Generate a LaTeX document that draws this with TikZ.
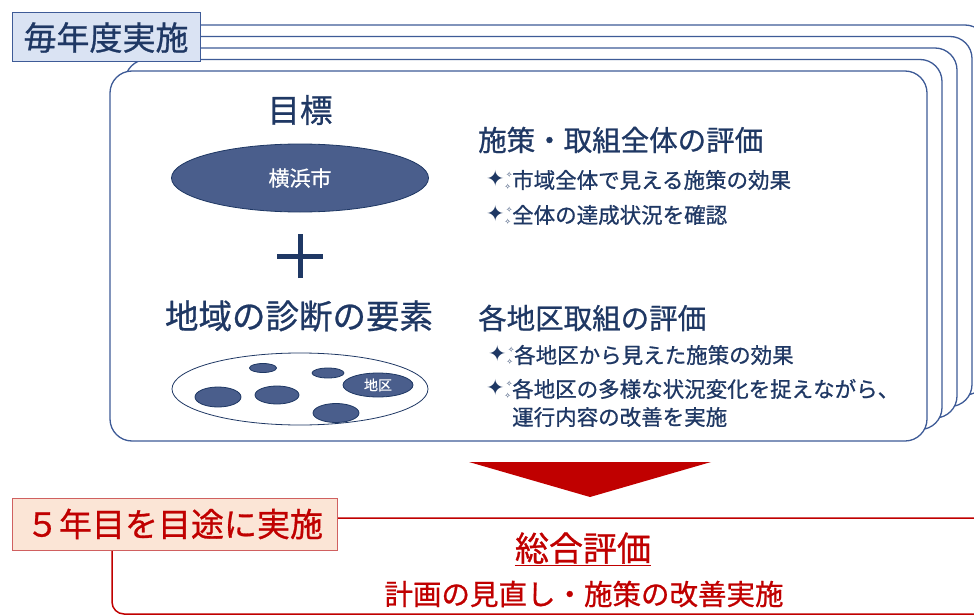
\documentclass[tikz,border=0pt]{standalone}
\usepackage{fontspec}
\setmainfont{Noto Sans CJK JP}
\newfontfamily\heavy[FakeBold=0.8]{Noto Sans CJK JP}
\newfontfamily\symfont{DejaVu Sans}
\usetikzlibrary{shapes.geometric}
\definecolor{navy}{HTML}{1F3864}
\definecolor{frameblue}{HTML}{3E5B97}
\definecolor{labelblue}{HTML}{DAE3F3}
\definecolor{discfill}{HTML}{4A5E8C}
\definecolor{darkred}{HTML}{C00000}
\definecolor{labelred}{HTML}{FBE5D6}
\definecolor{edgered}{HTML}{D06060}
\newcommand{\spark}{\symfont\raisebox{-1pt}{\fontsize{22}{22}\selectfont ✦}\fontsize{7.5}{7.5}\selectfont\rlap{\hspace*{1.5pt}\raisebox{8pt}{✧}}\raisebox{-3.5pt}{✧}}
\tikzset{
	stackbox/.style={draw=frameblue,fill=white,line width=1.3pt,rounded corners=22pt},
	disc/.style={ellipse,draw=navy,fill=discfill,line width=0.8pt,inner sep=0pt,text=white},
	heading/.style={text=navy,anchor=west,inner sep=0pt,font=\heavy\fontsize{28.5}{31}\selectfont},
	bullet/.style={text=navy,anchor=west,inner sep=0pt,font=\heavy\fontsize{21.5}{24}\selectfont},
	sparkmark/.style={text=navy,anchor=east,inner sep=0pt},
}
\begin{document}
\begin{tikzpicture}[x=1pt,y=-1pt]
		\useasboundingbox (0,0) rectangle (974,615);
		\clip (0,0) rectangle (974,615);
		\foreach \k in {4,3,2,1}
			\draw [stackbox,shift={(15*\k,-11.5*\k)}] (110,71) rectangle (927,441);
		\draw [stackbox] (110,71) rectangle (927,441);
		\node [draw=frameblue,fill=labelblue,line width=1pt,minimum width=188pt,minimum height=49pt,inner sep=0pt,text=navy,font=\heavy\fontsize{33}{36}\selectfont] (yearly) at (106,37.5) {毎年度実施};
		\node [text=navy,inner sep=0pt,font=\heavy\fontsize{32.5}{35}\selectfont] (goal) at (300,110) {目標};
		\node [disc,minimum width=257pt,minimum height=68pt,font=\heavy\fontsize{21}{23}\selectfont] (city) at (300,178) {横浜市};
		\coordinate (plus) at (300,256);
		\draw [navy,line width=5pt] ([xshift=-23pt]plus) -- ([xshift=23pt]plus);
		\draw [navy,line width=5pt] ([yshift=-22pt]plus) -- ([yshift=22pt]plus);
		\node [text=navy,inner sep=0pt,font=\heavy\fontsize{33.5}{36}\selectfont] (elements) at (299,316) {地域の診断の要素};
		\node [ellipse,draw=navy,fill=white,line width=0.8pt,minimum width=256pt,minimum height=72pt,inner sep=0pt] (area) at (300,389) {};
		\node [disc,minimum width=27pt,minimum height=9pt] (d1) at (263,368) {};
		\node [disc,minimum width=32pt,minimum height=10pt] (d2) at (328,373) {};
		\node [disc,minimum width=70pt,minimum height=24pt,font=\heavy\fontsize{14}{16}\selectfont] (district) at (378,385) {地区};
		\node [disc,minimum width=46pt,minimum height=20pt] (d3) at (218,397) {};
		\node [disc,minimum width=44pt,minimum height=18pt] (d4) at (277,395) {};
		\node [disc,minimum width=46pt,minimum height=19pt] (d5) at (336,413) {};
		\node [heading] (overall) at (478,140) {施策・取組全体の評価};
		\node [bullet] (overall1) at (512,180) {市域全体で見える施策の効果};
		\node [bullet] (overall2) at (512,215) {全体の達成状況を確認};
		\node [heading] (local) at (478,318) {各地区取組の評価};
		\node [bullet] (local1) at (514,355) {各地区から見えた施策の効果};
		\node [bullet] (local2) at (512,389) {各地区の多様な状況変化を捉えながら、};
		\node [bullet] (local3) at (512,417) {運行内容の改善を実施};
		\foreach \item in {overall1,overall2,local1,local2}
			\node [sparkmark] (\item-mark) at ([xshift=-1pt]\item.west) {\spark};
		\fill [darkred] (469,462) -- (711,462) -- (590,497) -- cycle;
		\draw [darkred,line width=1.5pt,rounded corners=12pt] (112,518) rectangle (1000,614);
		\node [draw=edgered,fill=labelred,line width=1pt,minimum width=325pt,minimum height=52pt,inner sep=0pt,text=darkred,font=\heavy\fontsize{33}{36}\selectfont] (fiveyear) at (174.5,524) {５年目を目途に実施};
		\node [text=darkred,inner sep=0pt,font=\heavy\fontsize{34}{37}\selectfont] (review) at (583,548) {総合評価};
		\draw [darkred,line width=1.2pt] ([yshift=-2pt]review.south west) -- ([yshift=-2pt]review.south east);
		\node [text=darkred,inner sep=0pt,font=\heavy\fontsize{28.5}{31}\selectfont] (revise) at (584,594) {計画の見直し・施策の改善実施};
	\end{tikzpicture}
\end{document}
